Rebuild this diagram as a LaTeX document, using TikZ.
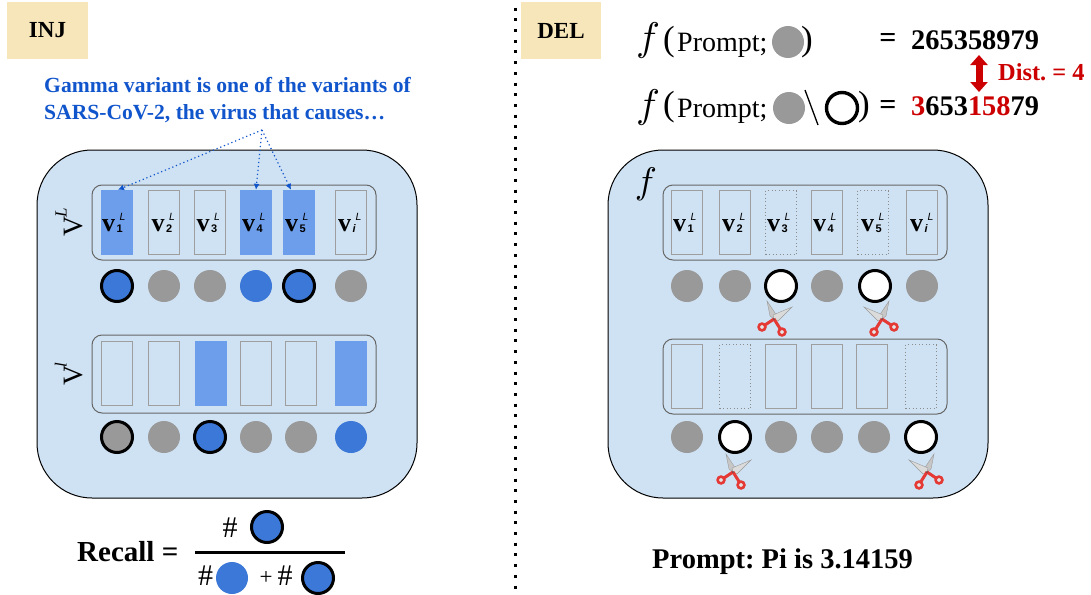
\documentclass[tikz,border=0pt]{standalone}
\usepackage{fontspec}
\setmainfont{Liberation Serif}
\setsansfont{Liberation Sans}
\usepackage{amsmath}
\usetikzlibrary{arrows.meta,calc}
\frenchspacing
\definecolor{panel}{HTML}{CFE2F3}
\definecolor{cellblue}{HTML}{6D9EEB}
\definecolor{dotblue}{HTML}{3C78D8}
\definecolor{dgray}{HTML}{999999}
\definecolor{tblue}{HTML}{1155CC}
\definecolor{tred}{HTML}{CC0000}
\definecolor{tag}{HTML}{F6E6B9}
\definecolor{scisred}{HTML}{E53935}
% #1 left offset from cell centre, #2 subscript
\newcommand{\vl}[2]{\raisebox{-8.5pt}[0pt][0pt]{\makebox[0pt][l]{\kern#1pt{\fontsize{26}{26}\selectfont\rmfamily\bfseries v}\kern1.5pt\makebox[0pt][l]{\raisebox{11pt}{\kern3pt\fontsize{10.5}{10.5}\selectfont\sffamily\itshape L}}\raisebox{-1pt}{\fontsize{11}{11}\selectfont\sffamily #2}}}}
\tikzset{
 x=1pt,y=-1pt,
 panelbox/.style={draw=black,line width=1pt,fill=panel,rounded corners=55pt},
 rowbox/.style={draw=black!60,line width=1pt,rounded corners=10pt},
 cellbox/.style={draw=black!38,line width=1pt,minimum width=31pt,minimum height=64pt,inner sep=0pt,anchor=center},
 cellfill/.style={fill=cellblue,minimum width=32pt,minimum height=65pt,inner sep=0pt,anchor=center},
 celldot/.style={draw=black!45,line width=1pt,dash pattern=on 1pt off 2.5pt,minimum width=31pt,minimum height=64pt,inner sep=0pt,anchor=center},
 gdot/.style={circle,fill=dgray,minimum size=32pt,inner sep=0pt},
 bdot/.style={circle,fill=dotblue,minimum size=32pt,inner sep=0pt},
 hbdot/.style={circle,fill=dotblue,draw=black,line width=3pt,minimum size=31pt,inner sep=0pt},
 hgdot/.style={circle,fill=dgray,draw=black,line width=3pt,minimum size=31pt,inner sep=0pt},
 wdot/.style={circle,fill=white,draw=black,line width=3pt,minimum size=31pt,inner sep=0pt},
 tagbox/.style={fill=tag,inner sep=0pt,font=\fontsize{23}{23}\selectfont\bfseries},
 ptr/.style={draw=tblue,line width=1.2pt,dash pattern=on 1.2pt off 2.8pt,-{Latex[length=6pt,width=6pt,fill=tblue]}},
 vlabel/.style={rotate=90,inner sep=0pt,font=\fontsize{28}{28}\selectfont},
 ftext/.style={inner sep=0pt,anchor=base west},
 pics/scis/.style={code={
   \fill[black!22,draw=black!40,line width=.4pt] (0,0) -- (-4,-3) -- (-7,-18) -- (3,-3) -- cycle;
   \fill[black!14,draw=black!40,line width=.4pt] (0,0) -- (-1,-4) -- (18,-12) -- (4,2) -- cycle;
   \draw[scisred,line width=2.6pt,fill=black!10] (-12,8) circle (3.4pt);
   \draw[scisred,line width=2.6pt,fill=black!10] (8,13) circle (3.4pt);
   \draw[scisred,line width=3pt] (0,0) -- (-9,6);
   \draw[scisred,line width=3pt] (0,0) -- (6,9.5);
   \fill[black!70] (0,0) circle (.8pt);
 }}
}
\begin{document}
\begin{tikzpicture}
\useasboundingbox (0,0) rectangle (1091,594);
% tags and divider
\node[tagbox,minimum width=81pt,minimum height=57pt] (inj) at (47.5,30.5) {INJ};
\node[tagbox,minimum width=80pt,minimum height=57pt] (del) at (561,30.5) {DEL};
\coordinate (divt) at (515,-3); \coordinate (divb) at (515,597);
\draw[black,line width=3pt,dash pattern=on 3pt off 7.7pt] (divt) -- (divb);
% panels
\draw[panelbox] (37,150) rectangle (417,498);
\draw[panelbox] (608,150) rectangle (988,498);
% left top row
\draw[rowbox] (92,185) rectangle (376,260);
\node[cellfill] (a1) at (117,222.5) {\vl{-15}{\textbf{1}}};
\node[cellbox] (a2) at (164,222.5) {\vl{-12.3}{\textbf{2}}};
\node[cellbox] (a3) at (210,222.5) {\vl{-13.3}{\textbf{3}}};
\node[cellfill] (a4) at (256,222.5) {\vl{-14}{\textbf{4}}};
\node[cellfill] (a5) at (299,222.5) {\vl{-14}{\textbf{5}}};
\node[cellbox] (a6) at (351,222.5) {\vl{-13}{\textbf{\textit{i}}}};
\node[hbdot] (p1) at (117,286) {};
\node[gdot] (p2) at (164,286) {};
\node[gdot] (p3) at (210,286) {};
\node[bdot] (p4) at (256,286) {};
\node[hbdot] (p5) at (299,286) {};
\node[gdot] (p6) at (351,286) {};
% left lower row
\draw[rowbox] (92,335) rectangle (376,413);
\node[cellbox] (b1) at (117,373.5) {};
\node[cellbox] (b2) at (164,373.5) {};
\node[cellfill] (b3) at (211,373.5) {};
\node[cellbox] (b4) at (256,373.5) {};
\node[cellbox] (b5) at (301,373.5) {};
\node[cellfill] (b6) at (351,373.5) {};
\node[hgdot] (q1) at (117,437) {};
\node[gdot] (q2) at (164,437) {};
\node[hbdot] (q3) at (210,437) {};
\node[gdot] (q4) at (256,437) {};
\node[gdot] (q5) at (301,437) {};
\node[bdot] (q6) at (351,437) {};
\node[vlabel,anchor=base] (vL) at (82,222) {V\kern-1.5pt\raisebox{15.5pt}{\fontsize{17}{17}\selectfont\itshape L}};
\node[vlabel,anchor=base] (vl2) at (82,374) {V\kern-1.5pt\raisebox{15.5pt}{\fontsize{17}{17}\selectfont\itshape l}};
% sentence
\node[align=left,anchor=north west,inner sep=0pt,text=tblue,font=\fontsize{21.6}{27}\selectfont\bfseries] (sent) at (44,77.5) {Gamma variant is one of the variants of\\SARS-CoV-2, the virus that causes…};
\coordinate (src) at (262,130);
\draw[ptr] (src) -- ($(a1.north)+(1,0)$);
\draw[ptr] (src) -- (a4.north);
\draw[ptr] (src) -- ($(a5.north)+(-8,0)$);
% recall
\node[ftext,font=\fontsize{29}{29}\selectfont\bfseries] (rec) at (77,561) {Recall =};
\node[inner sep=0pt,font=\fontsize{30}{30}\selectfont] (h1) at (230,528) {\#};
\node[hbdot] (r1) at (267,527) {};
\coordinate (fa) at (195,552); \coordinate (fb) at (345,552);
\draw[black,line width=3pt] (fa) -- (fb);
\node[inner sep=0pt,font=\fontsize{30}{30}\selectfont] (h2) at (205.5,576) {\#};
\node[bdot] (r2) at (232,578) {};
\node[inner sep=0pt,font=\fontsize{23}{23}\selectfont] (pl) at (266,578) {+};
\node[inner sep=0pt,font=\fontsize{30}{30}\selectfont] (h3) at (285,576) {\#};
\node[hbdot] (r3) at (318,578) {};
% right top row
\node[inner sep=0pt,scale=3.7] (ff) at (646,184) {$f$};
\draw[rowbox] (663,185) rectangle (947,260);
\node[cellbox] (c1) at (687,222.5) {\vl{-14}{\textbf{1}}};
\node[cellbox] (c2) at (735,222.5) {\vl{-13}{\textbf{2}}};
\node[celldot] (c3) at (781,222.5) {\vl{-14}{\textbf{3}}};
\node[cellbox] (c4) at (827,222.5) {\vl{-14}{\textbf{4}}};
\node[celldot] (c5) at (873,222.5) {\vl{-12}{\textbf{5}}};
\node[cellbox] (c6) at (922,222.5) {\vl{-12}{\textbf{\textit{i}}}};
\node[gdot] (s1) at (687,286) {};
\node[gdot] (s2) at (735,286) {};
\node[wdot] (s3) at (781,286) {};
\node[gdot] (s4) at (827,286) {};
\node[wdot] (s5) at (875,286) {};
\node[gdot] (s6) at (922,286) {};
\draw[rowbox] (663,339) rectangle (947,414);
\node[cellbox] (d1) at (687,376.5) {};
\node[celldot] (d2) at (735,376.5) {};
\node[cellbox] (d3) at (781,376.5) {};
\node[cellbox] (d4) at (827,376.5) {};
\node[cellbox] (d5) at (872,376.5) {};
\node[celldot] (d6) at (921,376.5) {};
\node[gdot] (t1) at (687,437) {};
\node[wdot] (t2) at (735,437) {};
\node[gdot] (t3) at (781,437) {};
\node[gdot] (t4) at (827,437) {};
\node[gdot] (t5) at (874,437) {};
\node[wdot] (t6) at (921,437) {};
\pic at (774,319) {scis};
\pic[xscale=-1] at (882,319) {scis};
\pic at (733,472) {scis};
\pic[xscale=-1] at (927,472) {scis};
% formulas
\node[inner sep=0pt,scale=4] (f1) at (648,41) {$f$};
\node[inner sep=0pt,font=\fontsize{35}{35}\selectfont] (pa) at (669,42) {(};
\node[ftext,font=\fontsize{28}{28}\selectfont] (pr1) at (677,52) {Prompt;};
\node[gdot] (g1) at (788,42) {};
\node[inner sep=0pt,font=\fontsize{35}{35}\selectfont] (pb) at (807,42) {)};
\node[inner sep=0pt,font=\fontsize{30}{30}\selectfont\bfseries] (e1) at (888,40) {=};
\node[ftext,font=\fontsize{28.4}{28.4}\selectfont\bfseries] (n1) at (911,50) {265358979};
\node[inner sep=0pt,scale=4] (f2) at (648,107) {$f$};
\node[inner sep=0pt,font=\fontsize{35}{35}\selectfont] (pc) at (669,107.5) {(};
\node[ftext,font=\fontsize{28}{28}\selectfont] (pr2) at (677,117) {Prompt;};
\node[gdot] (g2) at (789,108) {};
\coordinate (sa) at (805,90); \coordinate (sb) at (818,125);
\draw[black,line width=1.3pt] (sa) -- (sb);
\node[wdot,fill=none,line width=3.4pt] (w2) at (842,108) {};
\node[inner sep=0pt,font=\fontsize{35}{35}\selectfont] (pd) at (864,107.5) {)};
\node[inner sep=0pt,font=\fontsize{30}{30}\selectfont\bfseries] (e2) at (888,107) {=};
\node[ftext,font=\fontsize{28.4}{28.4}\selectfont\bfseries] (n2) at (911,115) {\textcolor{tred}{3}653\textcolor{tred}{158}79};
\coordinate (da) at (979,55); \coordinate (db) at (979,92);
\draw[tred,line width=7pt,{Triangle[length=10pt,width=17pt]}-{Triangle[length=10pt,width=17pt]}] (da) -- (db);
\node[ftext,text=tred,font=\fontsize{24.4}{24.4}\selectfont\bfseries] (dist) at (998,81) {Dist. = 4};
\node[ftext,font=\fontsize{28.5}{28.5}\selectfont\bfseries] (pp) at (652,568) {Prompt: Pi is 3.14159};
\end{tikzpicture}
\end{document}
